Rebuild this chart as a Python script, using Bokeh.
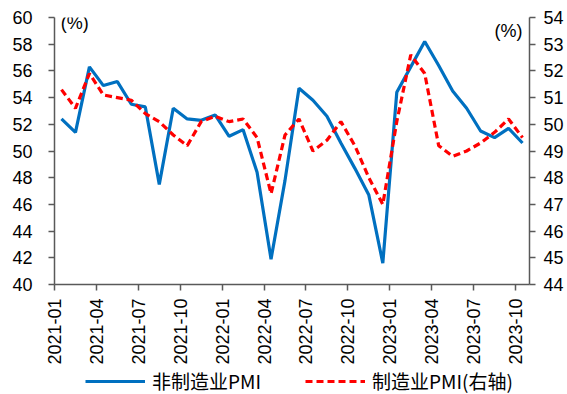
from bokeh.plotting import figure
from bokeh.models import Range1d, LinearAxis, FixedTicker, Legend, LegendItem, Label
from bokeh.layouts import column
from bokeh.embed import file_html
from bokeh.resources import INLINE
import math

months = ["2021-01", "2021-02", "2021-03", "2021-04", "2021-05", "2021-06",
          "2021-07", "2021-08", "2021-09", "2021-10", "2021-11", "2021-12",
          "2022-01", "2022-02", "2022-03", "2022-04", "2022-05", "2022-06",
          "2022-07", "2022-08", "2022-09", "2022-10", "2022-11", "2022-12",
          "2023-01", "2023-02", "2023-03", "2023-04", "2023-05", "2023-06",
          "2023-07", "2023-08", "2023-09", "2023-10"]
non_mfg_pmi = [52.4, 51.4, 56.3, 54.9, 55.2, 53.5, 53.3, 47.5, 53.2, 52.4, 52.3, 52.7,
               51.1, 51.6, 48.4, 41.9, 47.8, 54.7, 53.8, 52.6, 50.6, 48.7, 46.7, 41.6,
               54.4, 56.3, 58.2, 56.4, 54.5, 53.2, 51.5, 51.0, 51.7, 50.6]
mfg_pmi = [51.3, 50.6, 51.9, 51.1, 51.0, 50.9, 50.4, 50.1, 49.6, 49.2, 50.1, 50.3,
           50.1, 50.2, 49.5, 47.4, 49.6, 50.2, 49.0, 49.4, 50.1, 49.2, 48.0, 47.0,
           50.1, 52.6, 51.9, 49.2, 48.8, 49.0, 49.3, 49.7, 50.2, 49.5]
tick_months = months[::3]
left_ticks = list(range(40, 61, 2))
right_ticks = list(range(44, 55, 1))
series_names = ["非制造业PMI", "制造业PMI(右轴)"]

xs = [i + 0.5 for i in range(len(months))]
tick_pos = [i for i in range(0, len(months), 3)]

FONT = "Liberation Sans"
CJK = "Noto Sans CJK SC"
AXC = "#595959"
BLUE = "#0070C0"
RED = "#FF0000"
DASH = "7 4"

p = figure(width=567, height=367, output_backend="svg", toolbar_location=None,
           x_range=Range1d(0, len(months)), y_range=Range1d(40, 60),
           min_border_left=54, min_border_right=38, min_border_top=17,
           min_border_bottom=83)
p.outline_line_color = None
p.xgrid.visible = False
p.ygrid.visible = False
p.background_fill_color = "white"
p.border_fill_color = "white"

p.extra_y_ranges = {"right": Range1d(44, 54)}

p.line(xs, non_mfg_pmi, line_color=BLUE, line_width=3.2)
p.line(xs, mfg_pmi, line_color=RED, line_width=3.2, line_dash=DASH,
       y_range_name="right")

xa = p.xaxis[0]
xa.ticker = FixedTicker(ticks=tick_pos)
xa.major_label_overrides = {pos: lab for pos, lab in zip(tick_pos, tick_months)}
xa.major_label_orientation = math.pi / 2
xa.minor_tick_line_color = None

ya = p.yaxis[0]
ya.ticker = FixedTicker(ticks=left_ticks)
ya.minor_tick_line_color = None

ra = LinearAxis(y_range_name="right", ticker=FixedTicker(ticks=right_ticks))
ra.minor_tick_line_color = None
p.add_layout(ra, "right")

for ax in [xa, ya, ra]:
    ax.axis_line_color = AXC
    ax.major_tick_line_color = AXC
    ax.axis_line_width = 1.5
    ax.major_tick_line_width = 1.5
    ax.major_tick_out = 6
    ax.major_tick_in = 0
    ax.major_label_text_font = FONT
    ax.major_label_text_font_size = "18px"
    ax.major_label_text_color = "black"
    ax.major_label_standoff = 8
ya.major_label_standoff = 16

p.add_layout(Label(x=0.45, y=59.6, text="(%)", text_font=FONT, text_font_size="18px",
                   text_baseline="middle", text_align="left", text_color="black"))
p.add_layout(Label(x=33.5, y=59.0, text="(%)", text_font=FONT, text_font_size="18px",
                   text_baseline="middle", text_align="right", text_color="black"))

# legend strip below the chart (series drawn again outside its visible y range,
# only so that the legend has real renderers to describe)
lg = figure(width=567, height=27, output_backend="svg", toolbar_location=None,
            x_range=Range1d(0, len(months)), y_range=Range1d(0, 1),
            min_border=0, min_border_left=0, min_border_right=0,
            min_border_top=0, min_border_bottom=0)
lg.xaxis.visible = False
lg.yaxis.visible = False
lg.grid.visible = False
lg.outline_line_color = None
lr1 = lg.line(xs, non_mfg_pmi, line_color=BLUE, line_width=3.2)
lr2 = lg.line(xs, mfg_pmi, line_color=RED, line_width=3.2, line_dash=DASH)
legend = Legend(items=[LegendItem(label=series_names[0], renderers=[lr1]),
                       LegendItem(label=series_names[1], renderers=[lr2])],
                location=(31, 0), orientation="horizontal",
                border_line_color=None, background_fill_alpha=0,
                padding=0, margin=0, spacing=44, label_standoff=7,
                glyph_width=60, glyph_height=16, label_height=16,
                label_text_font=CJK, label_text_font_size="19px",
                label_text_color="black")
lg.add_layout(legend, "center")

open("out.html", "w").write(file_html(column(p, lg, spacing=0), INLINE))
